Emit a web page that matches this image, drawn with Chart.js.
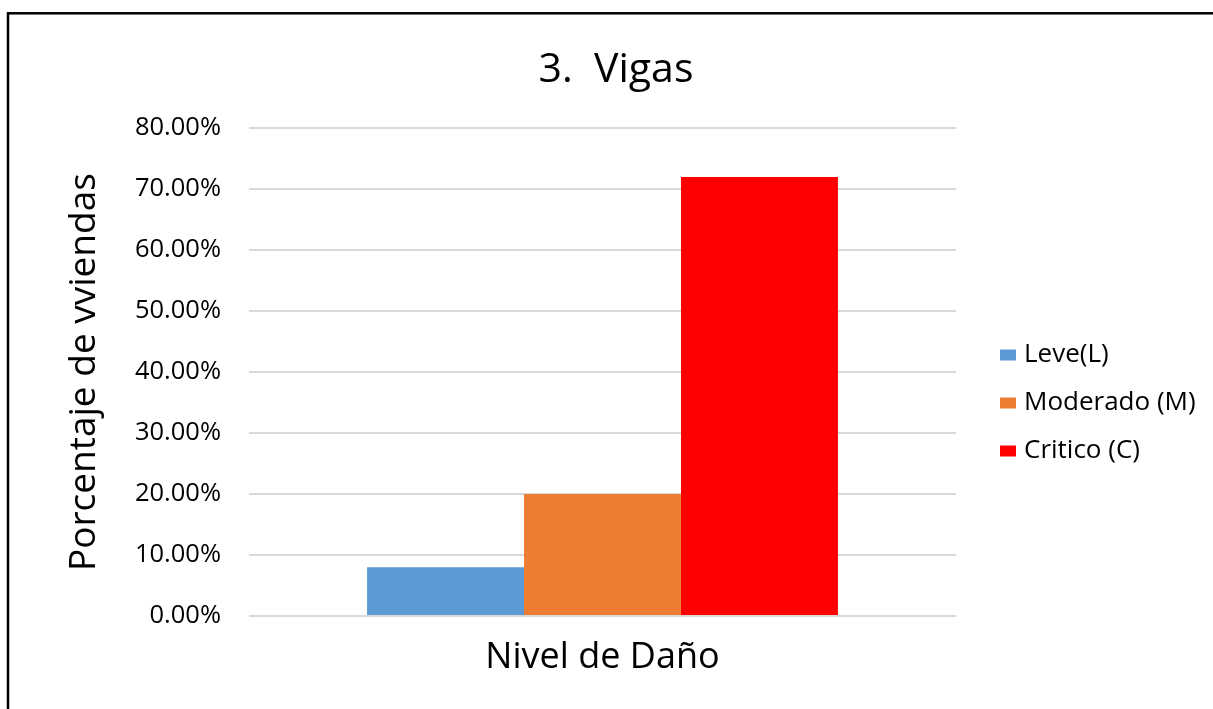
<!DOCTYPE html>
<html>
<head>
<meta charset="utf-8">
<script src="https://cdn.jsdelivr.net/npm/chart.js@4.4.1/dist/chart.umd.min.js"></script>
<style>
  html, body { margin: 0; padding: 0; background: #ffffff; }
  #c { display: block; }
</style>
</head>
<body>
<canvas id="c" width="1213" height="709"></canvas>
<script>
// ---- data ----
const categories = [''];
const seriesLabels = ['Leve(L)', 'Moderado (M)', 'Critico (C)'];
const leveValues = [8];
const moderadoValues = [20];
const criticoValues = [72];
const seriesColors = ['#5B9BD5', '#ED7D31', '#FF0000'];
const chartTitle = '3.  Vigas';
const yAxisTitle = 'Porcentaje de vviendas';
const xAxisTitle = 'Nivel de Daño';
const yMin = 0, yMax = 80, yStep = 10;

const FONT = '"Open Sans", "DejaVu Sans", sans-serif';

const frameAndLegend = {
  id: 'frameAndLegend',
  beforeDraw(chart) {
    const ctx = chart.ctx;
    ctx.save();
    ctx.fillStyle = '#ffffff';
    ctx.fillRect(0, 0, chart.width, chart.height);
    ctx.strokeStyle = '#000000';
    ctx.lineWidth = 2.5;
    ctx.strokeRect(8, 13.3, 1400, 900);
    ctx.restore();
  },
  afterDraw(chart) {
    const ctx = chart.ctx;
    const area = chart.chartArea;
    const x0 = area.right + 44;
    const yc = 403, gap = 48;
    ctx.save();
    ctx.font = '26px ' + FONT;
    ctx.textBaseline = 'middle';
    ctx.textAlign = 'left';
    chart.data.datasets.forEach((ds, i) => {
      const y = yc + (i - 1) * gap;
      ctx.fillStyle = ds.backgroundColor;
      ctx.fillRect(x0, y - 5.5, 16, 11);
      ctx.fillStyle = '#000000';
      ctx.fillText(ds.label, x0 + 24, y);
    });
    ctx.restore();
  }
};

new Chart(document.getElementById('c'), {
  type: 'bar',
  data: {
    labels: categories,
    datasets: [
      { label: seriesLabels[0], data: leveValues, backgroundColor: seriesColors[0] },
      { label: seriesLabels[1], data: moderadoValues, backgroundColor: seriesColors[1] },
      { label: seriesLabels[2], data: criticoValues, backgroundColor: seriesColors[2] }
    ]
  },
  options: {
    responsive: false,
    animation: false,
    layout: { padding: { left: 19, right: 0, top: 0, bottom: 0 } },
    datasets: { bar: { categoryPercentage: 0.666, barPercentage: 1.0, borderWidth: 0 } },
    plugins: {
      legend: { display: false },
      tooltip: { enabled: false },
      title: {
        display: true,
        text: chartTitle,
        color: '#000000',
        font: { family: FONT, size: 41, weight: 'normal', lineHeight: 1.2 },
        padding: { top: 46, bottom: 33 }
      }
    },
    scales: {
      x: {
        grid: { display: false },
        border: { display: false },
        ticks: { display: false },
        title: {
          display: true,
          text: xAxisTitle,
          color: '#000000',
          font: { family: FONT, size: 36, lineHeight: 1.2 },
          padding: { top: 0, bottom: 30 }
        },
        afterFit(scale) { scale.height = 93; }
      },
      y: {
        min: yMin,
        max: yMax,
        ticks: {
          stepSize: yStep,
          color: '#000000',
          padding: 28,
          font: { family: FONT, size: 25.5 },
          callback: (v) => v.toFixed(2) + '%'
        },
        grid: { color: '#d9d9d9', lineWidth: 2, drawTicks: false },
        border: { display: false },
        title: {
          display: true,
          text: yAxisTitle,
          color: '#000000',
          font: { family: FONT, size: 37, lineHeight: 1.2 },
          padding: { top: 43, bottom: 0 }
        },
        afterFit(scale) { scale.width = 230; }
      },
      yR: {
        type: 'linear',
        position: 'right',
        display: true,
        grid: { display: false },
        border: { display: false },
        ticks: { display: false },
        afterFit(scale) { scale.width = 257; }
      }
    }
  },
  plugins: [frameAndLegend]
});
</script>
</body>
</html>
